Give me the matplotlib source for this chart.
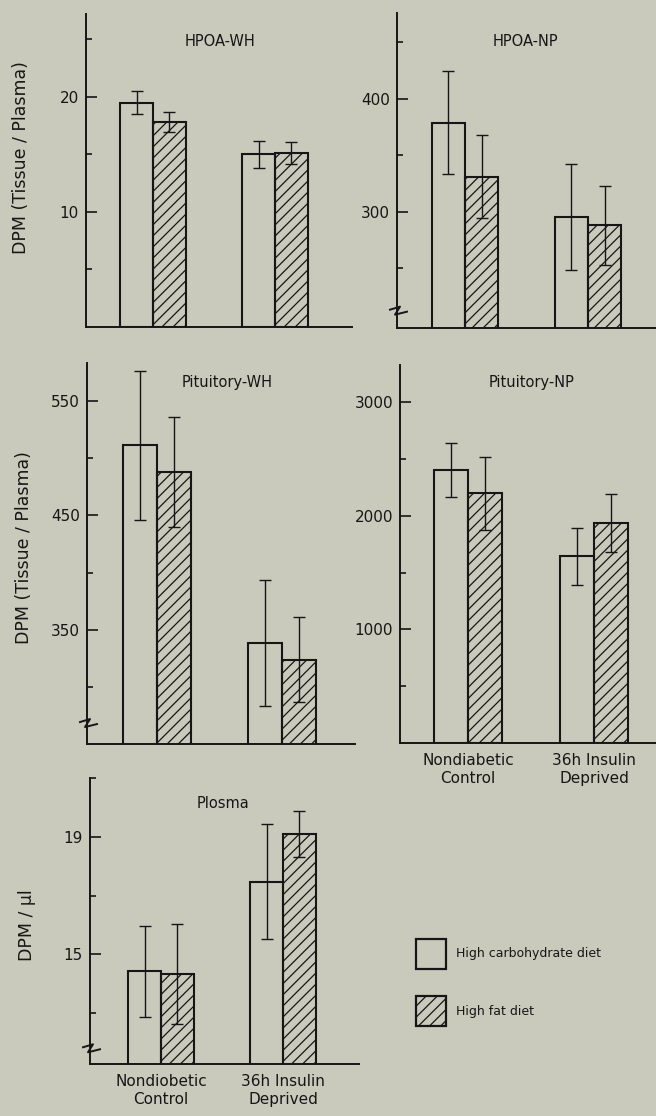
import matplotlib
matplotlib.use('Agg')  # Non-interactive backend
import matplotlib.pyplot as plt
from matplotlib.patches import Patch
import numpy as np

# --- data ---
groups_np = ["Nondiabetic\nControl", "36h Insulin\nDeprived"]
groups_plasma = ["Nondiobetic\nControl", "36h Insulin\nDeprived"]
diets = ["High carbohydrate diet", "High fat diet"]

hpoa_wh_carb = [19.5, 15.0]
hpoa_wh_carb_err = [1.0, 1.2]
hpoa_wh_fat = [17.8, 15.1]
hpoa_wh_fat_err = [0.85, 0.95]

hpoa_np_carb = [379, 295]
hpoa_np_carb_err = [46, 47]
hpoa_np_fat = [331, 288]
hpoa_np_fat_err = [37, 35]

pit_wh_carb = [511, 339]
pit_wh_carb_err = [65, 55]
pit_wh_fat = [488, 324]
pit_wh_fat_err = [48, 37]

pit_np_carb = [2400, 1643]
pit_np_carb_err = [238, 250]
pit_np_fat = [2198, 1934]
pit_np_fat_err = [320, 255]

plasma_carb = [14.42, 17.47]
plasma_carb_err = [1.56, 1.95]
plasma_fat = [14.32, 19.1]
plasma_fat_err = [1.7, 0.78]

W_PX, H_PX = 656, 1116
BG = '#c9cabc'
INK = '#161616'

plt.rcParams['font.family'] = ['DejaVu Sans']
plt.rcParams['hatch.linewidth'] = 0.9

fig = plt.figure(figsize=(W_PX / 100, H_PX / 100), dpi=100, facecolor=BG)


def add_panel(rect_px, xlim):
    l, t, r, b = rect_px
    ax = fig.add_axes([l / W_PX, 1 - b / H_PX, (r - l) / W_PX, (b - t) / H_PX])
    ax.set_facecolor(BG)
    ax.set_xlim(*xlim)
    for s in ('top', 'right'):
        ax.spines[s].set_visible(False)
    for s in ('left', 'bottom'):
        ax.spines[s].set_linewidth(1.4)
        ax.spines[s].set_color(INK)
    return ax


def draw_break(ax, yfrac):
    # small zigzag across the left spine (broken axis)
    pos = ax.get_position()
    wpx = pos.width * W_PX
    hpx = pos.height * H_PX
    xs = np.array([-7, 3, -2, 10]) / wpx
    ys = yfrac + np.array([1, 4, -4, -1]) / hpx
    ax.plot(xs, ys, transform=ax.transAxes, color=INK, lw=1.4, clip_on=False, zorder=5)


def plot_panel(ax, carb, carb_err, fat, fat_err, ylim, majors, minors, xlabels=None, broken=False):
    x = np.arange(len(carb))
    w = 0.27
    ekw = dict(ecolor=INK, elinewidth=1.0, capsize=4, capthick=1.0)
    ax.bar(x - w / 2, carb, w, facecolor='none', edgecolor=INK, linewidth=1.5,
           yerr=carb_err, error_kw=ekw)
    ax.bar(x + w / 2, fat, w, facecolor='none', edgecolor=INK, linewidth=1.5,
           hatch='///', yerr=fat_err, error_kw=ekw)
    ax.set_ylim(*ylim)
    ax.set_yticks(majors)
    ax.set_yticks(minors, minor=True)
    ax.tick_params(axis='y', which='major', direction='in', length=8, width=1.2,
                   labelsize=11, pad=5, colors=INK)
    ax.tick_params(axis='y', which='minor', direction='in', length=4, width=1.2, colors=INK)
    if xlabels is None:
        ax.set_xticks([])
    else:
        ax.set_xticks(x)
        ax.set_xticklabels(xlabels, fontsize=11, linespacing=1.3, color=INK)
        ax.tick_params(axis='x', length=0, pad=7)
    if broken:
        draw_break(ax, 0.055)


# HPOA-WH
ax1 = add_panel((86, 14, 352, 327), (-0.549, 1.631))
plot_panel(ax1, hpoa_wh_carb, hpoa_wh_carb_err, hpoa_wh_fat, hpoa_wh_fat_err,
           (0, 27.2), [10, 20], [5, 15, 25])

# HPOA-NP
ax2 = add_panel((397, 13, 656, 328), (-0.553, 1.553))
plot_panel(ax2, hpoa_np_carb, hpoa_np_carb_err, hpoa_np_fat, hpoa_np_fat_err,
           (197, 476), [300, 400], [250, 350, 450], broken=True)

# Pituitory-WH
ax3 = add_panel((87, 363, 355, 744), (-0.56, 1.584))
plot_panel(ax3, pit_wh_carb, pit_wh_carb_err, pit_wh_fat, pit_wh_fat_err,
           (250.4, 583), [350, 450, 550], [300, 400, 500], broken=True)

# Pituitory-NP
ax4 = add_panel((400, 365, 656, 743), (-0.54, 1.49))
plot_panel(ax4, pit_np_carb, pit_np_carb_err, pit_np_fat, pit_np_fat_err,
           (0, 3326), [1000, 2000, 3000], [500, 1500, 2500], xlabels=groups_np)

# Plasma
ax5 = add_panel((90, 778, 359, 1064), (-0.582, 1.623))
plot_panel(ax5, plasma_carb, plasma_carb_err, plasma_fat, plasma_fat_err,
           (11.27, 21.0), [15, 19], [13, 17, 21], xlabels=groups_plasma, broken=True)

# panel titles
titles = [("HPOA-WH", 220, 42), ("HPOA-NP", 525, 42), ("Pituitory-WH", 227, 383),
          ("Pituitory-NP", 532, 383), ("Plosma", 223, 803)]
for txt, px, py in titles:
    fig.text(px / W_PX, 1 - py / H_PX, txt, ha='center', va='center', fontsize=10.5, color=INK)

# y labels
ylabels = [("DPM (Tissue / Plasma)", 21, 158), ("DPM (Tissue / Plasma)", 24, 548),
           ("DPM / \u00b5l", 27, 925)]
for txt, px, py in ylabels:
    fig.text(px / W_PX, 1 - py / H_PX, txt, ha='center', va='center', rotation=90,
             fontsize=12.5, color=INK)

# legend
handles = [Patch(facecolor='none', edgecolor=INK, linewidth=1.6),
           Patch(facecolor='none', edgecolor=INK, linewidth=1.6, hatch='///')]
fig.legend(handles, diets, loc='center left', bbox_to_anchor=(416 / W_PX, 1 - 982.5 / H_PX),
           frameon=False, fontsize=9, handlelength=2.4, handleheight=3.3,
           labelspacing=2.2, handletextpad=0.8, borderpad=0, borderaxespad=0,
           labelcolor=INK)

fig.savefig('out.png', dpi=100, facecolor=BG)
plt.close(fig)
